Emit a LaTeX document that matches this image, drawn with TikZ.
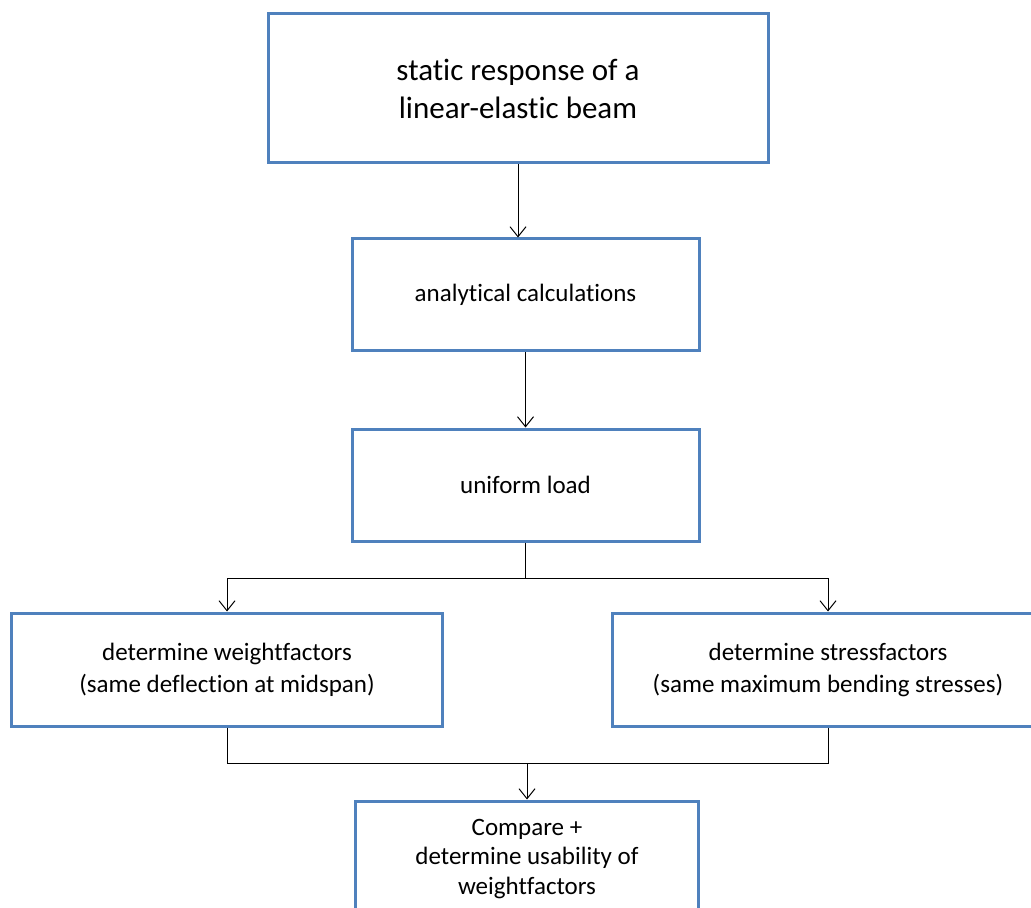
\documentclass[tikz,border=0pt]{standalone}
\usepackage{fontspec}
\setmainfont{Carlito}[Ligatures=NoCommon]
\usepackage{tikz}
\usetikzlibrary{arrows.meta,positioning}
\usepackage{xcolor}
\definecolor{frame}{RGB}{79,129,189}
\definecolor{ink}{RGB}{0,0,0}
\tikzset{
  stage/.style={draw=frame,line width=1.5pt,fill=white,align=center,inner sep=4pt,
    minimum width=173.5pt,minimum height=56pt,font=\fontsize{12.5}{16}\selectfont},
  title/.style={stage,minimum width=250pt,minimum height=74.5pt,
    font=\fontsize{15.5}{19}\selectfont},
  wide/.style={stage,minimum width=215.5pt,minimum height=56.5pt},
  arr/.style={-{Straight Barb[length=5pt,width=8pt]},line width=0.5pt,ink},
  link/.style={line width=0.5pt,ink},
}

\begin{document}
\begin{tikzpicture}
  \useasboundingbox (0,0) rectangle (515.5pt,-454pt);
  \clip (0,0) rectangle (515.5pt,-454pt);
  % column
  \node[title] (beam) at (259pt,-44.25pt) {static response of a\\linear-elastic beam};
  \node[stage,below=36.5pt of beam,xshift=3.75pt] (calc) {analytical calculations};
  \node[stage,below=37.5pt of calc] (load) {uniform load};
  % branches
  \node[wide,below=34.5pt of load,xshift=-149.25pt] (wf) {determine weightfactors\\(same deflection at midspan)};
  \node[wide,below=34.5pt of load,xshift=151.25pt] (sf) {determine stressfactors\\(same maximum bending stresses)};
  \node[stage,below=36pt of wf,xshift=150pt,minimum width=171.5pt,minimum height=58pt,
    font=\fontsize{12.5}{14.75}\selectfont] (cmp)
    {Compare +\\determine usability of\\weightfactors};

  % edges
  \draw[arr] (beam.south) -- (beam.south |- calc.north);
  \draw[arr] (calc) -- (load);
  \draw[link] (load.south) -- ++(0,-18pt) coordinate (split);
  \draw[arr] (split) -| (wf.north);
  \draw[arr] (split) -| (sf.north);
  \draw[link] (wf.south) -- ++(0,-18pt) coordinate (merge) -| (sf.south);
  \draw[arr] (cmp.north |- merge) -- (cmp.north);
\end{tikzpicture}
\end{document}
